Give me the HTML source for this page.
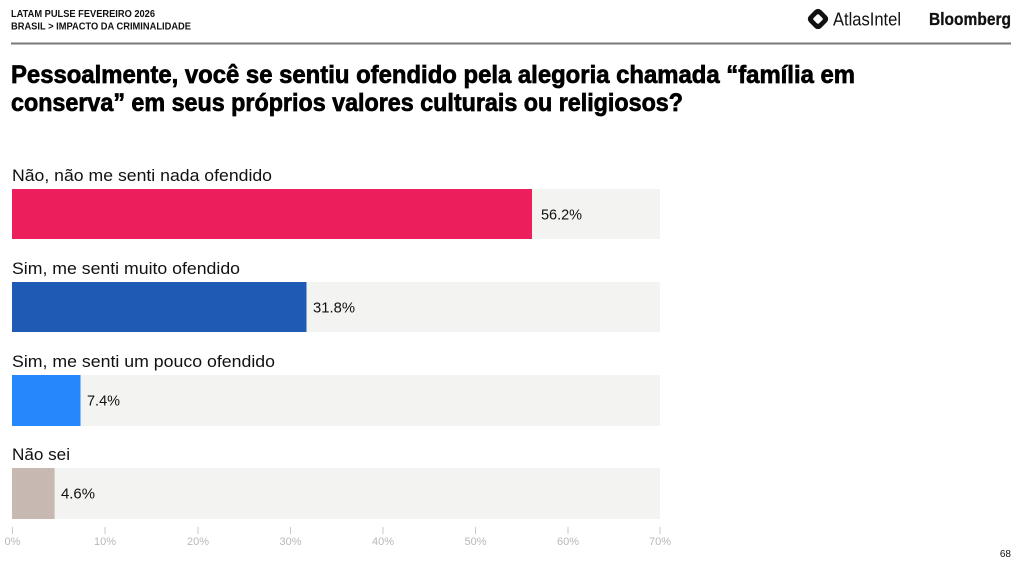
<!DOCTYPE html>
<html><head><meta charset="utf-8"><style>
html,body{margin:0;padding:0;background:#fff;}
svg{display:block;}
text{font-family:"Liberation Sans",sans-serif;}
</style></head><body>
<svg width="1022" height="569" viewBox="0 0 1022 569" xmlns="http://www.w3.org/2000/svg">
<rect width="1022" height="569" fill="#fff"/>
<!-- header -->
<text x="11" y="17" font-size="10" font-weight="bold" fill="#111" textLength="144" lengthAdjust="spacingAndGlyphs">LATAM PULSE FEVEREIRO 2026</text>
<text x="11" y="29.5" font-size="10" font-weight="bold" fill="#111" textLength="180" lengthAdjust="spacingAndGlyphs">BRASIL &gt; IMPACTO DA CRIMINALIDADE</text>
<!-- logos -->
<g transform="translate(818,19)">
<rect x="-8.5" y="-8.5" width="17" height="17" rx="4.5" transform="rotate(45)" fill="#111"/>
<rect x="-3.8" y="-3.8" width="7.6" height="7.6" rx="1.6" transform="rotate(45)" fill="#fff"/>
</g>
<text x="833" y="25.5" font-size="18" fill="#111" textLength="68" lengthAdjust="spacingAndGlyphs">AtlasIntel</text>
<text x="929" y="25" font-size="17.5" font-weight="bold" fill="#111" stroke="#111" stroke-width="0.3" textLength="82" lengthAdjust="spacingAndGlyphs">Bloomberg</text>
<line x1="11" y1="43.5" x2="1011" y2="43.5" stroke="#7a7a7a" stroke-width="2"/>
<!-- title -->
<text x="11" y="83" font-size="25" font-weight="bold" fill="#000" stroke="#000" stroke-width="0.7" textLength="844" lengthAdjust="spacingAndGlyphs">Pessoalmente, você se sentiu ofendido pela alegoria chamada “família em</text>
<text x="11" y="111" font-size="25" font-weight="bold" fill="#000" stroke="#000" stroke-width="0.7" textLength="672" lengthAdjust="spacingAndGlyphs">conserva” em seus próprios valores culturais ou religiosos?</text>
<!-- bars -->
<g font-size="16.5" fill="#111">
<text x="12" y="181" textLength="260" lengthAdjust="spacingAndGlyphs">Não, não me senti nada ofendido</text>
<text x="12" y="274" textLength="228" lengthAdjust="spacingAndGlyphs">Sim, me senti muito ofendido</text>
<text x="12" y="367" textLength="263" lengthAdjust="spacingAndGlyphs">Sim, me senti um pouco ofendido</text>
<text x="12" y="460" textLength="58" lengthAdjust="spacingAndGlyphs">Não sei</text>
</g>
<rect x="12" y="189" width="648" height="50" fill="#f3f3f1"/>
<rect x="12" y="189" width="520" height="50" fill="#ec1e5c"/>
<rect x="12" y="282" width="648" height="50" fill="#f3f3f1"/>
<rect x="12" y="282" width="294.5" height="50" fill="#1f5bb5"/>
<rect x="12" y="375" width="648" height="51" fill="#f3f3f1"/>
<rect x="12" y="375" width="68.5" height="51" fill="#2686fb"/>
<rect x="12" y="468" width="648" height="51" fill="#f3f3f1"/>
<rect x="12" y="468" width="42.6" height="51" fill="#c7b9b1"/>
<g font-size="15" fill="#111">
<text x="541" y="219.5" textLength="41" lengthAdjust="spacingAndGlyphs">56.2%</text>
<text x="313" y="312.5" textLength="42" lengthAdjust="spacingAndGlyphs">31.8%</text>
<text x="87" y="405.5" textLength="33" lengthAdjust="spacingAndGlyphs">7.4%</text>
<text x="61" y="498.5" textLength="34" lengthAdjust="spacingAndGlyphs">4.6%</text>
</g>
<!-- axis -->
<g stroke="#c8c8c8" stroke-width="1">
<line x1="12.5" y1="527" x2="12.5" y2="534"/>
<line x1="105" y1="527" x2="105" y2="534"/>
<line x1="198" y1="527" x2="198" y2="534"/>
<line x1="290.5" y1="527" x2="290.5" y2="534"/>
<line x1="383" y1="527" x2="383" y2="534"/>
<line x1="475.5" y1="527" x2="475.5" y2="534"/>
<line x1="568" y1="527" x2="568" y2="534"/>
<line x1="660" y1="527" x2="660" y2="534"/>
</g>
<g font-size="11" fill="#b8b8b8" text-anchor="middle">
<text x="12.5" y="545">0%</text>
<text x="105" y="545">10%</text>
<text x="198" y="545">20%</text>
<text x="290.5" y="545">30%</text>
<text x="383" y="545">40%</text>
<text x="475.5" y="545">50%</text>
<text x="568" y="545">60%</text>
<text x="660" y="545">70%</text>
</g>
<text x="1011" y="557" font-size="10" fill="#111" text-anchor="end">68</text>
</svg>
</body></html>
